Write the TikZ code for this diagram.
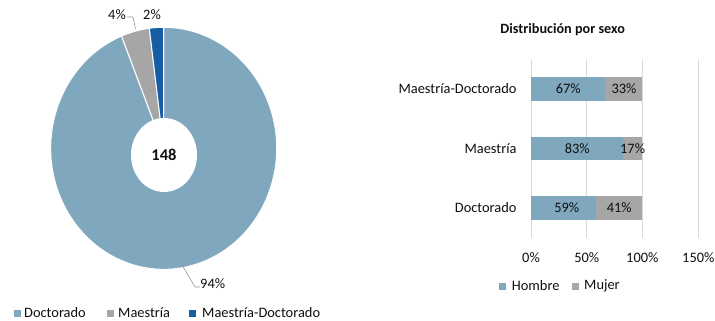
\documentclass[tikz,border=0pt]{standalone}
\usepackage{fontspec}
\setmainfont{Carlito}
\definecolor{doc}{RGB}{127,168,190}
\definecolor{mae}{RGB}{166,166,166}
\definecolor{mdc}{RGB}{22,93,164}
\definecolor{grid}{RGB}{217,217,217}
\definecolor{txt}{RGB}{15,15,15}
\begin{document}
\begin{tikzpicture}[x=1pt,y=-1pt,
  lbl/.style={font=\fontsize{14.4}{16}\selectfont, text=txt, inner sep=0pt},
  sep/.style={draw=white, line width=1pt},
  leader/.style={draw=mae!90!black, line width=0.6pt},
  gridline/.style={draw=grid, line width=0.8pt},
  legsq/.style={minimum size=7pt, inner sep=0pt}
]
\useasboundingbox (0,0) rectangle (715,321);
% ---------- pie ----------
\coordinate (c) at (163.7,148.3);
\fill[doc, sep] (c) -- ++(-111.9:113 and 121) arc[start angle=-111.9, end angle=-450, x radius=113, y radius=121] -- cycle;
\fill[mae, sep] (c) -- ++(-97.3:113 and 121) arc[start angle=-97.3, end angle=-111.9, x radius=113, y radius=121] -- cycle;
\fill[mdc, sep] (c) -- ++(-90:113 and 121) arc[start angle=-90, end angle=-97.3, x radius=113, y radius=121] -- cycle;
\fill[white] (164,155) ellipse[x radius=33, y radius=37];
\node[lbl, font=\bfseries\fontsize{16.5}{18}\selectfont] (tot) at (164,155) {148};
% labels
\node[lbl] (p4) at (117,15) {4\%};
\node[lbl] (p2) at (152,15) {2\%};
\node[lbl, anchor=west] (p94) at (200,284) {94\%};
\coordinate (l4a) at (133,17);
\coordinate (l4b) at (135.5,29);
\draw[leader] (p4.east) ++(1,2) -- (l4a) -- (l4b);
\coordinate (l94a) at (195,287);
\coordinate (l94b) at (182,265);
\draw[leader] (p94.west) ++(0,3) -- (l94a) -- (l94b);
% legend
\node[legsq, fill=doc] (q1) at (17.5,313) {};
\node[lbl, anchor=west] (t1) at (24,313) {Doctorado};
\node[legsq, fill=mae] (q2) at (110.5,313) {};
\node[lbl, anchor=west] (t2) at (118,313) {Maestría};
\node[legsq, fill=mdc] (q3) at (192.5,313) {};
\node[lbl, anchor=west] (t3) at (202,313) {Maestría-Doctorado};
% ---------- bar chart ----------
\node[lbl, font=\bfseries\fontsize{14.2}{16}\selectfont] (title) at (562.7,30) {Distribución por sexo};
\foreach \gx/\gl in {531/0\%, 586.7/50\%, 642.3/100\%, 698.3/150\%}{
  \draw[gridline] (\gx,60) -- (\gx,238);
  \node[lbl] (ax\gx) at (\gx,258) {\gl};
}
% Maestria-Doctorado
\fill[doc] (531,77.3) rectangle (605.2,100.7);
\fill[mae] (605.2,77.3) rectangle (642.3,100.7);
\node[lbl] (b1h) at (568.3,89) {67\%};
\node[lbl] (b1m) at (624,89) {33\%};
\node[lbl, anchor=east] (c1) at (516.7,89) {Maestría-Doctorado};
% Maestria
\fill[doc] (531,136.7) rectangle (623.3,160);
\fill[mae] (623.3,136.7) rectangle (642.3,160);
\node[lbl] (b2h) at (577.3,148.3) {83\%};
\node[lbl] (b2m) at (632.6,148.3) {17\%};
\node[lbl, anchor=east] (c2) at (516.7,148.3) {Maestría};
% Doctorado
\fill[doc] (531,196) rectangle (596,220);
\fill[mae] (596,196) rectangle (642.3,220);
\node[lbl] (b3h) at (566.7,208) {59\%};
\node[lbl] (b3m) at (619.3,208) {41\%};
\node[lbl, anchor=east] (c3) at (516.7,208) {Doctorado};
% legend
\node[legsq, fill=doc] (q4) at (502,286) {};
\node[lbl, anchor=west] (t4) at (511.7,286) {Hombre};
\node[legsq, fill=mae] (q5) at (575.5,286) {};
\node[lbl, anchor=west] (t5) at (584,286) {Mujer};
\end{tikzpicture}
\end{document}
